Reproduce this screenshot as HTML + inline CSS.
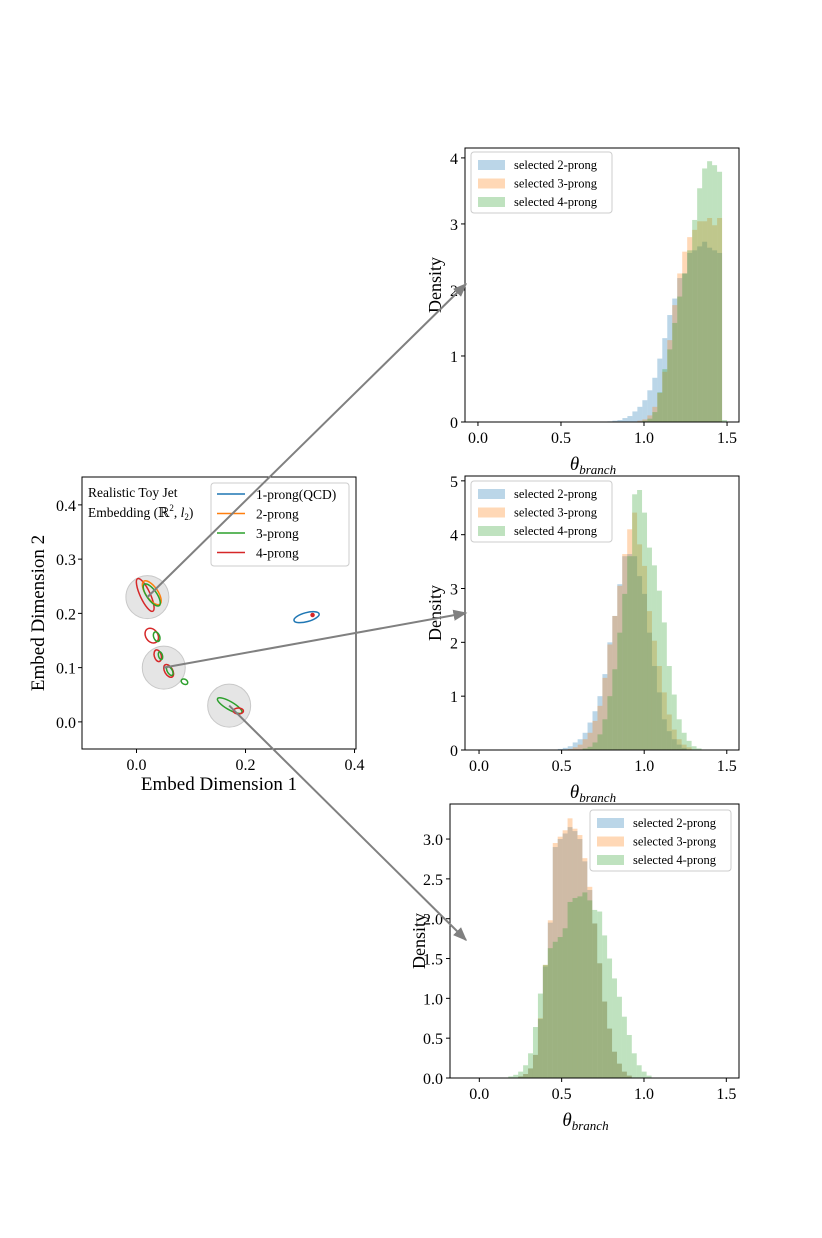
<!DOCTYPE html>
<html><head><meta charset="utf-8">
<style>
body{margin:0;background:#fff;}
svg text{font-family:"Liberation Serif","DejaVu Serif",serif;fill:#000;}
</style></head>
<body>
<svg id="fig" width="822" height="1233" viewBox="0 0 822 1233" xmlns="http://www.w3.org/2000/svg">
<defs>
<marker id="ah" viewBox="0 0 10 10" refX="9" refY="5" markerWidth="7" markerHeight="7" orient="auto"><path d="M0,1 L10,5 L0,9 z" fill="#808080"/></marker>
</defs>
</svg>
<script>
// ---------- data ----------
const seriesNames = ['selected 2-prong','selected 3-prong','selected 4-prong'];
const histColors = ['#1f77b4','#ff7f0e','#2ca02c'];
// top histogram (bins width 0.03 starting 0.0), sparse {bin:value}
const topBlue = {26:0.01,27:0.02,28:0.03,29:0.06,30:0.09,31:0.16,32:0.23,33:0.33,34:0.48,35:0.67,36:0.96,37:1.27,38:1.62,39:1.87,40:2.18,41:2.25,42:2.56,43:2.6,44:2.66,45:2.73,46:2.64,47:2.6,48:2.56};
const topOrange = {32:0.02,33:0.04,34:0.1,35:0.23,36:0.44,37:0.76,38:1.24,39:1.77,40:2.25,41:2.58,42:2.8,43:2.91,44:3.04,45:3.04,46:3.09,47:2.98,48:3.09};
const topGreen = {33:0.02,34:0.05,35:0.15,36:0.45,37:0.8,38:1.1,39:1.5,40:1.9,41:2.25,42:2.6,43:3.06,44:3.54,45:3.84,46:3.95,47:3.89,48:3.79,49:0.03};
// middle histogram (bins width 0.03 starting 0.417)
const midBlue = {2:0.02,3:0.04,4:0.07,5:0.14,6:0.2,7:0.32,8:0.51,9:0.72,10:1.0,11:1.41,12:2.0,13:2.49,14:3.08,15:3.6,16:3.64,17:3.6,18:3.23,19:2.9,20:2.18,21:1.56,22:1.07,23:0.57,24:0.35,25:0.2,26:0.1,27:0.04};
const midOrange = {4:0.02,5:0.05,6:0.1,7:0.2,8:0.32,9:0.54,10:0.82,11:1.34,12:1.96,13:2.49,14:3.05,15:3.64,16:4.1,17:4.41,18:3.82,19:3.42,20:2.58,21:2.03,22:1.56,23:1.07,24:0.66,25:0.38,26:0.2,27:0.1,28:0.05};
const midGreen = {7:0.03,8:0.06,9:0.14,10:0.29,11:0.57,12:1.0,13:1.5,14:2.18,15:2.9,16:3.6,17:4.75,18:4.83,19:4.41,20:3.76,21:3.43,22:2.96,23:2.37,24:1.56,25:1.03,26:0.57,27:0.32,28:0.17,29:0.07,30:0.03};
// bottom histogram (bins width 0.03 starting -0.004)
const botBlue = {8:0.02,9:0.05,10:0.12,11:0.29,12:0.74,13:1.4,14:1.95,15:2.9,16:3.0,17:3.07,18:3.15,19:3.1,20:3.0,21:2.72,22:2.36,23:1.94,24:1.44,25:0.96,26:0.62,27:0.33,28:0.18,29:0.08,30:0.03};
const botOrange = {8:0.02,9:0.05,10:0.12,11:0.29,12:0.75,13:1.42,14:1.98,15:2.95,16:3.03,17:3.11,18:3.26,19:3.13,20:3.05,21:2.76,22:2.4,23:1.94,24:1.44,25:0.96,26:0.62,27:0.33,28:0.18,29:0.08,30:0.03};
const botGreen = {6:0.02,7:0.04,8:0.08,9:0.16,10:0.31,11:0.64,12:1.06,13:1.42,14:1.63,15:1.71,16:1.77,17:1.88,18:2.21,19:2.26,20:2.28,21:2.33,22:2.23,23:2.11,24:2.09,25:1.79,26:1.5,27:1.25,28:1.02,29:0.77,30:0.54,31:0.31,32:0.16,33:0.08,34:0.03};
const xTickVals = [0.0,0.5,1.0,1.5];
const topYTicks = [0,1,2,3,4];
const midYTicks = [0,1,2,3,4,5];
const botYTicks = [0.0,0.5,1.0,1.5,2.0,2.5,3.0];
// scatter
const scXTicks = [0.0,0.2,0.4];
const scYTicks = [0.0,0.1,0.2,0.3,0.4];
const circlesX = [0.02,0.05,0.17];
const circlesY = [0.23,0.10,0.03];
// contours: x, y (data), rx, ry (px), angle, color
const contourX = [0.016,0.028,0.028,0.028,0.037,0.039,0.044,0.059,0.061,0.088,0.171,0.187,0.312,0.323];
const contourY = [0.234,0.238,0.234,0.159,0.157,0.122,0.122,0.094,0.094,0.074,0.030,0.020,0.193,0.197];
const contourRX = [5,6,5,6,3,3.5,2,4,2.5,3.5,14,5,13,1.5];
const contourRY = [18,14,13,8,5,6,4,7,5,2.5,4,3,4.5,1.5];
const contourAng = [-25,-35,-35,-35,-20,-15,-15,-30,-30,30,30,0,-15,0];
const contourCol = ['#d62728','#ff7f0e','#2ca02c','#d62728','#2ca02c','#d62728','#2ca02c','#d62728','#2ca02c','#2ca02c','#2ca02c','#d62728','#1f77b4','#d62728'];
const legendLabels = ['1-prong(QCD)','2-prong','3-prong','4-prong'];
const legendColors = ['#1f77b4','#ff7f0e','#2ca02c','#d62728'];

const NS='http://www.w3.org/2000/svg';
const svg=document.getElementById('fig');
function mk(tag,attrs,parent){const e=document.createElementNS(NS,tag);for(const k in attrs)e.setAttribute(k,attrs[k]);(parent||svg).appendChild(e);return e;}
function txt(s,x,y,size,anchor,parent){const t=mk('text',{x:x,y:y,'font-size':size,'text-anchor':anchor||'middle'},parent);t.textContent=s;return t;}

function drawHist(name,box,xd,yd,start,bw,series,yTicks,yFmt,legendPos,ylabX){
  const g=mk('g',{});
  
  
  const sx=v=>box.x0+(v-xd[0])/(xd[1]-xd[0])*(box.x1-box.x0);
  const sy=v=>box.y1-(v-yd[0])/(yd[1]-yd[0])*(box.y1-box.y0);
  series.forEach((s,si)=>{
    for(const k in s){
      const b=+k, v=s[k];
      const x0=sx(start+b*bw), x1=sx(start+(b+1)*bw);
      const r=mk('rect',{x:x0,y:sy(v),width:x1-x0,height:sy(0)-sy(v),fill:histColors[si],'fill-opacity':0.3},g);
      
      
    }
  });
  const fr=mk('rect',{x:box.x0,y:box.y0,width:box.x1-box.x0,height:box.y1-box.y0,fill:'none',stroke:'#000','stroke-width':1},g);
  
  
  xTickVals.forEach(v=>{const x=sx(v);mk('line',{x1:x,x2:x,y1:box.y1,y2:box.y1+4,stroke:'#000'},g);
    const t=txt(v.toFixed(1),x,box.y1+21,16,'middle',g);
    
    });
  yTicks.forEach(v=>{const y=sy(v);mk('line',{x1:box.x0-4,x2:box.x0,y1:y,y2:y,stroke:'#000'},g);
    const t=txt(yFmt(v),box.x0-7,y+6,16,'end',g);
    
    });
  const xl=mk('text',{x:(box.x0+box.x1)/2-9,y:box.y1+48,'font-size':19,'text-anchor':'middle','font-style':'italic'},g);
  xl.innerHTML='θ<tspan font-size="13" dy="4">branch</tspan>';
  
  
  const yl=txt('Density',0,0,18,'middle',g);
  yl.setAttribute('transform','translate('+ylabX+','+(box.y0+box.y1)/2+') rotate(-90)');
  
  
  const lg=mk('g',{},g);
  
  
  mk('rect',{x:legendPos[0],y:legendPos[1],width:141,height:61,rx:3,fill:'#fff','fill-opacity':0.8,stroke:'#ccc'},lg);
  seriesNames.forEach((n,i)=>{
    const yy=legendPos[1]+13+i*18.5;
    mk('rect',{x:legendPos[0]+7,y:yy-5,width:27,height:10,fill:histColors[i],'fill-opacity':0.3},lg);
    const t=txt(n,legendPos[0]+43,yy+4,12.5,'start',lg);
    
    
  });
}
drawHist('hist-top',{x0:465,x1:739,y0:148,y1:422},[-0.078,1.572],[0,4.15],0.0,0.03,[topBlue,topOrange,topGreen],topYTicks,v=>String(v),[471,152],441);
drawHist('hist-middle',{x0:465,x1:739,y0:476,y1:750},[-0.085,1.574],[0,5.09],0.417,0.03,[midBlue,midOrange,midGreen],midYTicks,v=>String(v),[471,481],441);
drawHist('hist-bottom',{x0:450,x1:739,y0:804,y1:1078},[-0.178,1.577],[0,3.44],-0.004,0.03,[botBlue,botOrange,botGreen],botYTicks,v=>v.toFixed(1),[590,810],425);

// ---------- scatter ----------
(function(){
  const g=mk('g',{});
  
  
  const box={x0:82,x1:356,y0:477,y1:749};
  const xd=[-0.1,0.4027],yd=[-0.05,0.4514];
  const sx=v=>box.x0+(v-xd[0])/(xd[1]-xd[0])*(box.x1-box.x0);
  const sy=v=>box.y1-(v-yd[0])/(yd[1]-yd[0])*(box.y1-box.y0);
  circlesX.forEach((cx,i)=>{const c=mk('circle',{cx:sx(cx),cy:sy(circlesY[i]),r:21.5,fill:'#dcdcdc','fill-opacity':0.75,stroke:'#c8c8c8'},g);
    
    });
  contourX.forEach((cx,i)=>{const x=sx(cx),y=sy(contourY[i]);
    const e=mk('ellipse',{cx:x,cy:y,rx:contourRX[i],ry:contourRY[i],fill:i==13?contourCol[i]:'none',stroke:contourCol[i],'stroke-width':1.5,transform:'rotate('+contourAng[i]+' '+x+' '+y+')'},g);
    
    });
  const fr=mk('rect',{x:box.x0,y:box.y0,width:box.x1-box.x0,height:box.y1-box.y0,fill:'none',stroke:'#000'},g);
  
  
  scXTicks.forEach(v=>{const x=sx(v);mk('line',{x1:x,x2:x,y1:box.y1,y2:box.y1+4,stroke:'#000'},g);
    const t=txt(v.toFixed(1),x,box.y1+21,16,'middle',g);
    
    });
  scYTicks.forEach(v=>{const y=sy(v);mk('line',{x1:box.x0-4,x2:box.x0,y1:y,y2:y,stroke:'#000'},g);
    const t=txt(v.toFixed(1),box.x0-6,y+6,16,'end',g);
    
    });
  const xl=txt('Embed Dimension 1',(box.x0+box.x1)/2,790,19,'middle',g);
  
  
  const yl=txt('Embed Dimension 2',0,0,19,'middle',g);
  yl.setAttribute('transform','translate(44,'+(box.y0+box.y1)/2+') rotate(-90)');
  
  
  const t1=txt('Realistic Toy Jet',88,497,13.5,'start',g);
  
  
  const t2=mk('text',{x:88,y:517,'font-size':13.5},g);
  t2.innerHTML='Embedding (ℝ<tspan font-size="9" dy="-6">2</tspan><tspan dy="6">, </tspan><tspan font-style="italic">l</tspan><tspan font-size="9" dy="3">2</tspan><tspan dy="-3">)</tspan>';
  
  
  const lg=mk('g',{},g);
  
  
  mk('rect',{x:211,y:483,width:138,height:83,rx:3,fill:'#fff','fill-opacity':0.8,stroke:'#ccc'},lg);
  legendLabels.forEach((n,i)=>{const yy=494+i*19.5;
    mk('line',{x1:217,x2:245,y1:yy,y2:yy,stroke:legendColors[i],'stroke-width':1.5},lg);
    const t=txt(n,256,yy+5,13.5,'start',lg);
    
    });
  // arrows
  const targets=[[466,284],[466,613],[466,940]];
  circlesX.forEach((cx,i)=>{const a=mk('line',{x1:sx(cx),y1:sy(circlesY[i]),x2:targets[i][0],y2:targets[i][1],stroke:'#808080','stroke-width':2,'marker-end':'url(#ah)'});
    
    });
})();
</script>
</body></html>
